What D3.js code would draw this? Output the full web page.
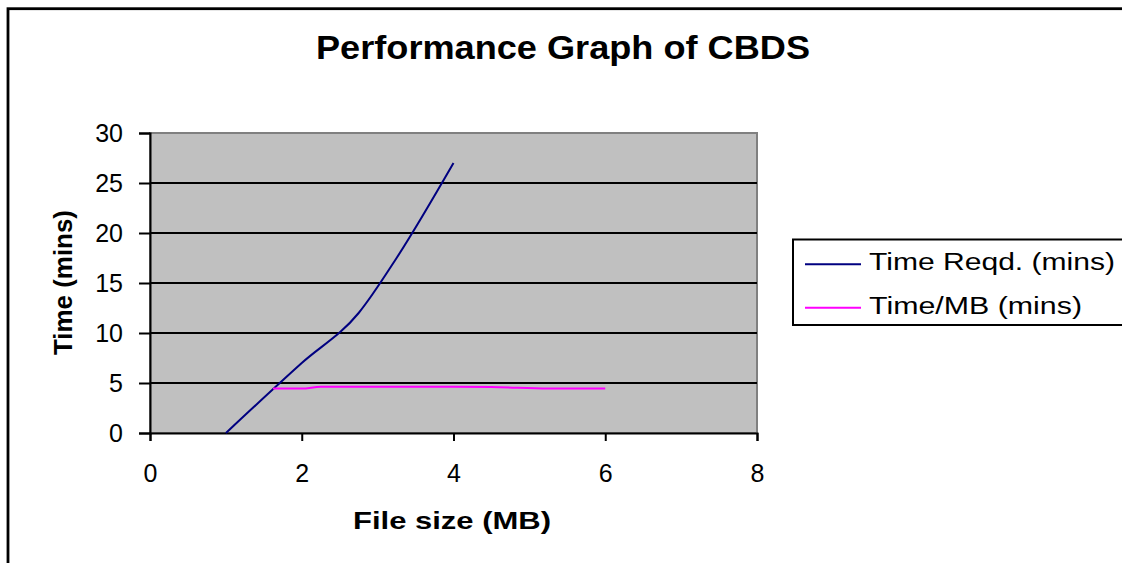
<!DOCTYPE html>
<html>
<head>
<meta charset="utf-8">
<script src="https://cdn.jsdelivr.net/npm/d3@7"></script>
<style>
  body { margin: 0; background: #fff; }
  text { font-family: "Liberation Sans", Arial, sans-serif; }
</style>
</head>
<body>
<svg id="chart" width="1122" height="563"></svg>
<script>
// values
var seriesNames = ['Time Reqd. (mins)', 'Time/MB (mins)'];
var seriesColors = ['#000080', '#FF00FF'];
var timeReqdX = [1, 2, 2.75, 3.25, 4];
var timeReqdY = [0, 7, 12, 17.5, 27];
var timePerMbX = [1.62, 2, 2.25, 3, 4, 4.5, 5.25, 6];
var timePerMbY = [4.45, 4.45, 4.62, 4.62, 4.62, 4.6, 4.45, 4.45];
var xTicks = [0, 2, 4, 6, 8];
var yTicks = [0, 5, 10, 15, 20, 25, 30];

var svg = d3.select('#chart');

// outer chart border (runs off the right / bottom edge)
svg.append('rect')
  .attr('x', 8).attr('y', 8.7)
  .attr('width', 1200).attr('height', 700)
  .attr('fill', 'none')
  .attr('stroke', '#000')
  .attr('stroke-width', 2.8);

var x = d3.scaleLinear().domain([0, 8]).range([150, 757]);
var y = d3.scaleLinear().domain([0, 30]).range([433, 133]);

// plot area
svg.append('rect')
  .attr('x', x(0)).attr('y', y(30))
  .attr('width', x(8) - x(0)).attr('height', y(0) - y(30))
  .attr('fill', '#C0C0C0')
  .attr('stroke', '#808080')
  .attr('stroke-width', 2);

// gridlines
svg.append('g').selectAll('line')
  .data(yTicks.filter(function(d) { return d > 0 && d < 30; }))
  .enter().append('line')
  .attr('x1', x(0)).attr('x2', x(8))
  .attr('y1', function(d) { return y(d); })
  .attr('y2', function(d) { return y(d); })
  .attr('stroke', '#000')
  .attr('stroke-width', 2);

// axes
var yAxis = svg.append('g')
  .attr('transform', 'translate(' + x(0) + ',0)')
  .call(d3.axisLeft(y).tickValues(yTicks).tickSize(11).tickPadding(16));
var xAxis = svg.append('g')
  .attr('transform', 'translate(0,' + y(0) + ')')
  .call(d3.axisBottom(x).tickValues(xTicks).tickSize(8).tickPadding(23));

[yAxis, xAxis].forEach(function(ax) {
  ax.select('.domain').attr('stroke', '#000').attr('stroke-width', 2);
  ax.selectAll('.tick line').attr('stroke', '#000').attr('stroke-width', 2);
  ax.selectAll('.tick text')
    .attr('fill', '#000')
    .style('font-size', '25px')
    .style('font-family', '"Liberation Sans", Arial, sans-serif');
});

// series
var series = [
  { name: seriesNames[0], color: seriesColors[0], pts: d3.zip(timeReqdX, timeReqdY), w: 246 },
  { name: seriesNames[1], color: seriesColors[1], pts: d3.zip(timePerMbX, timePerMbY), w: 213 }
];

var line = d3.line()
  .x(function(d) { return x(d[0]); })
  .y(function(d) { return y(d[1]); })
  .curve(d3.curveMonotoneX);

svg.append('g').selectAll('path')
  .data(series)
  .enter().append('path')
  .attr('d', function(d) { return line(d.pts); })
  .attr('fill', 'none')
  .attr('stroke', function(d) { return d.color; })
  .attr('stroke-width', 2);

// title and axis labels (source text is a bit wider than the font, hence textLength)
svg.append('text')
  .attr('x', 316).attr('y', 59)
  .attr('textLength', 494).attr('lengthAdjust', 'spacingAndGlyphs')
  .style('font-size', '33px').style('font-weight', 'bold')
  .text('Performance Graph of CBDS');

svg.append('text')
  .attr('x', 353).attr('y', 529)
  .attr('textLength', 198).attr('lengthAdjust', 'spacingAndGlyphs')
  .style('font-size', '24px').style('font-weight', 'bold')
  .text('File size (MB)');

svg.append('text')
  .attr('transform', 'translate(72,355) rotate(-90)')
  .attr('textLength', 145).attr('lengthAdjust', 'spacingAndGlyphs')
  .style('font-size', '25px').style('font-weight', 'bold')
  .text('Time (mins)');

// legend
var legend = svg.append('g').attr('transform', 'translate(793,239.5)');
legend.append('rect')
  .attr('x', 0).attr('y', 0)
  .attr('width', 340).attr('height', 85.5)
  .attr('fill', '#fff')
  .attr('stroke', '#000')
  .attr('stroke-width', 2);

var entries = legend.selectAll('.legendEntry')
  .data(series)
  .enter().append('g')
  .classed('legendEntry', true)
  .attr('transform', function(d, i) { return 'translate(0,' + (24.8 + i * 43.4) + ')'; });

entries.append('line')
  .attr('x1', 12).attr('x2', 68)
  .attr('stroke', function(d) { return d.color; })
  .attr('stroke-width', 2);

entries.append('text')
  .attr('x', 76).attr('y', 6)
  .attr('textLength', function(d) { return d.w; })
  .attr('lengthAdjust', 'spacingAndGlyphs')
  .style('font-size', '23px')
  .text(function(d) { return d.name; });
</script>
</body>
</html>
